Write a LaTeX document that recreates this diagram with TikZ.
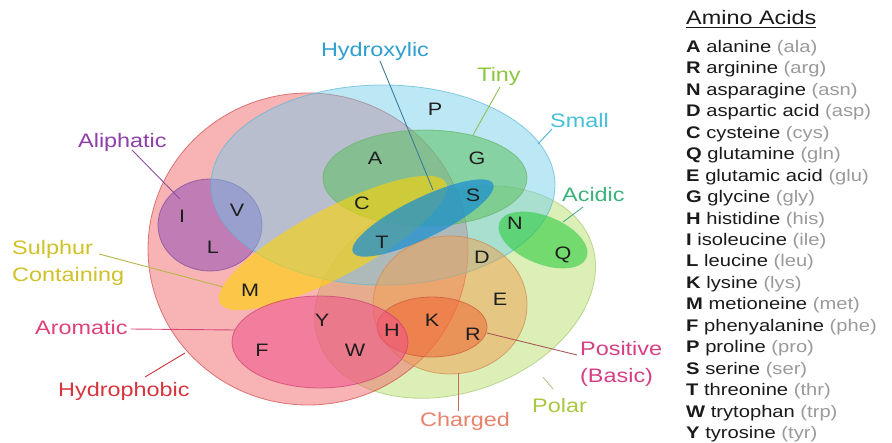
\documentclass[tikz,border=0pt]{standalone}
\usepackage{fontspec}
\setmainfont[FakeStretch=1.2]{Liberation Sans}
\usetikzlibrary{calc}
\definecolor{polarF}{HTML}{B8E070}
\definecolor{polarD}{HTML}{A8C870}
\definecolor{hydroF}{HTML}{F26B6B}
\definecolor{hydroD}{HTML}{D04848}
\definecolor{aliF}{HTML}{9B59B6}
\definecolor{aliD}{HTML}{7E4A9A}
\definecolor{smallF}{HTML}{6CCCEC}
\definecolor{smallD}{HTML}{5AB8D6}
\definecolor{tinyF}{HTML}{5CC060}
\definecolor{tinyD}{HTML}{6AB46A}
\definecolor{sulF}{HTML}{FFD400}
\definecolor{chF}{HTML}{F0A050}
\definecolor{chD}{HTML}{D08850}
\definecolor{posF}{HTML}{F06030}
\definecolor{posD}{HTML}{C85A3A}
\definecolor{aroF}{HTML}{F0508A}
\definecolor{aroD}{HTML}{C84070}
\definecolor{hxF}{HTML}{1E90D0}
\definecolor{acF}{HTML}{2ECC40}
\definecolor{letterc}{HTML}{1E1E1E}
\definecolor{namec}{HTML}{1A1A1A}
\definecolor{abbrc}{HTML}{9A9A9A}
\definecolor{cHx}{HTML}{2E9FD0}
\definecolor{cTiny}{HTML}{8CC63E}
\definecolor{cSmall}{HTML}{45C0D8}
\definecolor{cAcid}{HTML}{3BB37A}
\definecolor{cAli}{HTML}{8E3FA8}
\definecolor{cSul}{HTML}{CFC229}
\definecolor{cAro}{HTML}{E0407A}
\definecolor{cHyd}{HTML}{D8343C}
\definecolor{cPos}{HTML}{D63F86}
\definecolor{cCh}{HTML}{E8836A}
\definecolor{cPol}{HTML}{A8C840}
\definecolor{lHx}{HTML}{3D7D99}
\definecolor{lTiny}{HTML}{8DBF50}
\definecolor{lSmall}{HTML}{45B5CF}
\definecolor{lAcid}{HTML}{4AAA88}
\definecolor{lAli}{HTML}{8A4E9E}
\definecolor{lSul}{HTML}{B8B44A}
\definecolor{lAro}{HTML}{D9487E}
\definecolor{lHyd}{HTML}{C8343E}
\definecolor{lPos}{HTML}{A85A55}
\definecolor{lCh}{HTML}{C66E5A}
\definecolor{lPol}{HTML}{B0C890}
\begin{document}
\begin{tikzpicture}[x=1pt,y=-1pt,
  setshape/.style={line width=0.8pt, draw opacity=0.7},
  lbl/.style={font=\fontsize{19.5}{22}\selectfont, inner sep=0pt, anchor=base west},
  aa/.style={font=\fontsize{18}{20}\selectfont, inner sep=0pt, text=letterc},
  leader/.style={line width=0.9pt},
  legrow/.style={font=\fontsize{16.8}{19}\selectfont, inner sep=0pt, anchor=base west, text=namec}]
\useasboundingbox (0,0) rectangle (892,443);
\fill[white] (0,0) rectangle (892,443);

% sets
\path[setshape, fill=polarF, fill opacity=0.5, draw=polarD, rotate around={20:(455,292)}] (455,292) ellipse [x radius=145pt, y radius=100pt];
\path[setshape, fill=hydroF, fill opacity=0.5, draw=hydroD] (308,249) ellipse [x radius=160pt, y radius=156pt];
\path[setshape, fill=aliF, fill opacity=0.6, draw=aliD] (210,225) ellipse [x radius=52pt, y radius=46pt];
\path[setshape, fill=smallF, fill opacity=0.45, draw=smallD] (383,185) ellipse [x radius=172pt, y radius=100pt];
\path[setshape, fill=tinyF, fill opacity=0.55, draw=tinyD] (425,178) ellipse [x radius=102pt, y radius=48pt];
\path[fill=sulF, fill opacity=0.6, rotate around={28:(333,243)}] (333,243) ellipse [x radius=128pt, y radius=34pt];
\path[setshape, fill=chF, fill opacity=0.5, draw=chD] (450,305) ellipse [x radius=77pt, y radius=69pt];
\path[setshape, fill=posF, fill opacity=0.5, draw=posD] (432,327) ellipse [x radius=55pt, y radius=30pt];
\path[setshape, fill=aroF, fill opacity=0.55, draw=aroD] (320,342) ellipse [x radius=88pt, y radius=46pt];
\path[fill=hxF, fill opacity=0.75, rotate around={26:(423,218)}] (423,218) ellipse [x radius=78pt, y radius=20pt];
\path[fill=acF, fill opacity=0.6, rotate around={-22:(543,240)}] (543,240) ellipse [x radius=47pt, y radius=24pt];

% letters
\node[aa] (aaP) at (435,109) {P};
\node[aa] (aaA) at (375,158) {A};
\node[aa] (aaG) at (477,158) {G};
\node[aa] (aaS) at (473,195) {S};
\node[aa] (aaC) at (362,203) {C};
\node[aa] (aaI) at (182,216) {I};
\node[aa] (aaV) at (237,210) {V};
\node[aa] (aaL) at (213,247) {L};
\node[aa] (aaT) at (382,242) {T};
\node[aa] (aaN) at (515,223) {N};
\node[aa] (aaQ) at (563,255) {Q};
\node[aa] (aaD) at (482,257) {D};
\node[aa] (aaE) at (500,299) {E};
\node[aa] (aaM) at (250,290) {M};
\node[aa] (aaK) at (432,320) {K};
\node[aa] (aaR) at (473,334) {R};
\node[aa] (aaY) at (322,320) {Y};
\node[aa] (aaW) at (355,350) {W};
\node[aa] (aaH) at (392,330) {H};
\node[aa] (aaF) at (262,350) {F};

% labels
\node[lbl, anchor=base, text=cHx] (lbHx) at (375,57) {Hydroxylic};
\node[lbl, anchor=base, text=cTiny] (lbTiny) at (499,82) {Tiny};
\node[lbl, text=cSmall] (lbSmall) at (550,128) {Small};
\node[lbl, text=cAcid] (lbAcid) at (562,202) {Acidic};
\node[lbl, text=cAli] (lbAli) at (78,148) {Aliphatic};
\node[lbl, text=cSul] (lbSul) at (12,255) {Sulphur};
\node[lbl, text=cSul] (lbSulb) at (12,282) {Containing};
\node[lbl, text=cAro] (lbAro) at (35,335) {Aromatic};
\node[lbl, text=cHyd] (lbHyd) at (58,397) {Hydrophobic};
\node[lbl, text=cPos] (lbPos) at (580,356) {Positive};
\node[lbl, text=cPos] (lbPosb) at (580,383) {(Basic)};
\node[lbl, text=cCh] (lbCh) at (420,427) {Charged};
\node[lbl, text=cPol] (lbPol) at (532,413) {Polar};

% leader end points
\coordinate (eHx) at (433,190);
\coordinate (eTiny) at (473,135);
\coordinate (eSmall) at (538,144);
\coordinate (eAcid) at (563,222);
\coordinate (eAli) at (180,199);
\coordinate (eSul) at (223,287);
\coordinate (eAro) at (235,330);
\coordinate (eHyd) at (185,353);
\coordinate (ePos) at (487,333);
\coordinate (eCh) at (458,373);
\coordinate (ePol) at (543,377);

\draw[leader, lHx] ($(lbHx.base)+(5,4)$) -- (eHx);
\draw[leader, lTiny] ($(lbTiny.base)+(1,5)$) -- (eTiny);
\draw[leader, lSmall] ($(lbSmall.base west)+(2,1)$) -- (eSmall);
\draw[leader, lAcid] ($(lbAcid.base west)+(21,5)$) -- (eAcid);
\draw[leader, lAli] ($(lbAli.base west)+(54,2)$) -- (eAli);
\draw[leader, lSul] ($(lbSul.base east)+(6,-1)$) -- (eSul);
\draw[leader, lAro] ($(lbAro.base east)+(3,-6)$) -- (eAro);
\draw[leader, lHyd] ($(lbHyd.base west)+(87,-20)$) -- (eHyd);
\draw[leader, lPos] ($(lbPos.base west)+(-3,-1)$) -- (ePos);
\draw[leader, lCh] ($(lbCh.base west)+(38,-16)$) -- (eCh);
\draw[leader, lPol] ($(lbPol.base west)+(21,-24)$) -- (ePol);

% legend
\node[lbl, text=namec] (legtitle) at (686,25) {Amino Acids};
\draw[line width=1pt, namec] ($(legtitle.base west)+(0,3)$) -- ($(legtitle.base east)+(0,3)$);
\foreach \l/\n/\a [count=\i from 0] in {A/alanine/ala, R/arginine/arg, N/asparagine/asn, D/aspartic acid/asp, C/cysteine/cys, Q/glutamine/gln, E/glutamic acid/glu, G/glycine/gly, H/histidine/his, I/isoleucine/ile, L/leucine/leu, K/lysine/lys, M/metioneine/met, F/phenyalanine/phe, P/proline/pro, S/serine/ser, T/threonine/thr, W/trytophan/trp, Y/tyrosine/tyr}
  \node[legrow] (row\l) at (686,{52.5+21.45*\i}) {\textbf{\l} \n\ \textcolor{abbrc}{(\a)}};
\end{tikzpicture}
\end{document}
